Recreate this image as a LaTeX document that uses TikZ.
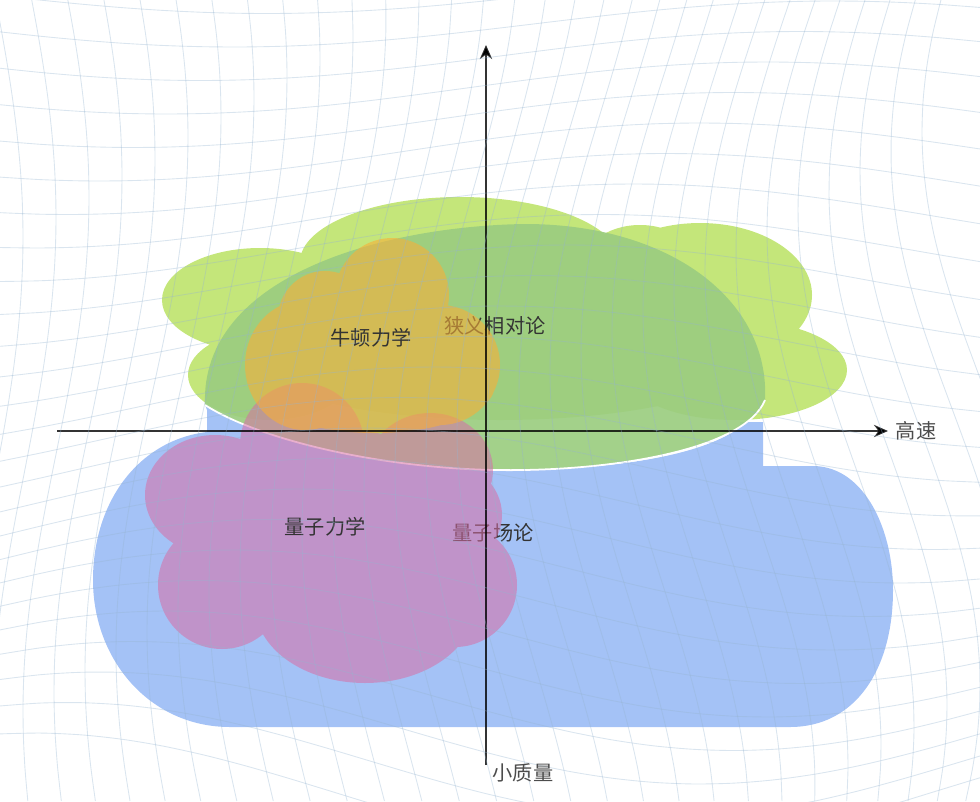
\documentclass[tikz,border=0pt]{standalone}
\usepackage{fontspec}
\newfontfamily\cjk{Noto Sans CJK SC}
\usetikzlibrary{arrows.meta,positioning}

\definecolor{cloudblue}{RGB}{164,194,246}
\definecolor{lightgreen}{RGB}{190,227,108}
\definecolor{deepgreen}{RGB}{155,205,128}
\definecolor{newtonorange}{RGB}{250,175,55}
\definecolor{quantumred}{RGB}{215,110,165}
\definecolor{netline}{RGB}{150,180,208}

\tikzset{
  lbl/.style={font=\cjk\fontsize{11.5}{14}\selectfont, text=black!80},
  axis/.style={line width=1.1pt, draw=black, draw opacity=0.8, -{Stealth[length=8pt,width=7pt]}},
  net/.style={draw=netline, line width=0.5pt, draw opacity=0.35},
}

\begin{document}
\begin{tikzpicture}[x=0.02cm, y=-0.02cm]
\useasboundingbox (0,0) rectangle (980,801);

% blue region
\fill[cloudblue] (207,410) -- (205,405) .. controls (260,440) and (380,468) .. (495,470)
  .. controls (600,471) and (700,458) .. (740,427) -- (740,422) -- (763,422) -- (763,466)
  -- (815,466) .. controls (865,468) and (893,530) .. (893,590)
  .. controls (893,670) and (855,727) .. (790,727) -- (230,727)
  .. controls (150,727) and (93,660) .. (93,580)
  .. controls (93,500) and (140,440) .. (207,432) -- cycle;

% light green cloud
\fill[lightgreen, fill opacity=0.9]
  (260,300) ellipse [x radius=98, y radius=52]
  (270,375) ellipse [x radius=82, y radius=45]
  (460,262) ellipse [x radius=160, y radius=65]
  (640,270) ellipse [x radius=60, y radius=45]
  (700,295) ellipse [x radius=112, y radius=72]
  (735,370) ellipse [x radius=112, y radius=50]
  (500,340) ellipse [x radius=280, y radius=80];

% special relativity dome
\fill[deepgreen, fill opacity=0.92] (205,405) .. controls (200,275) and (385,226) .. (525,224)
  .. controls (670,224) and (770,300) .. (765,400)
  .. controls (745,450) and (610,472) .. (495,470)
  .. controls (380,468) and (260,440) .. (205,405) -- cycle;
\draw[white, line width=1pt] (765,400) .. controls (745,450) and (610,472) .. (495,470)
  .. controls (380,468) and (260,440) .. (205,405);

\node[lbl] (sr) at (495,326) {狭义相对论};
\node[lbl] (qft) at (493,533) {量子场论};

% quantum mechanics cloud
\fill[quantumred, fill opacity=0.55]
  (302,445) circle [radius=62]
  (430,470) ellipse [x radius=63, y radius=57]
  (215,495) ellipse [x radius=70, y radius=60]
  (222,585) circle [radius=64]
  (365,605) ellipse [x radius=110, y radius=78]
  (455,585) circle [radius=62]
  (440,515) ellipse [x radius=62, y radius=55]
  (340,530) ellipse [x radius=150, y radius=100];

% newton cloud
\fill[newtonorange, fill opacity=0.58]
  (392,295) circle [radius=57]
  (325,318) circle [radius=47]
  (305,365) ellipse [x radius=60, y radius=65]
  (440,365) circle [radius=60]
  (375,385) ellipse [x radius=120, y radius=48];

\node[lbl] (newton) at (371,338) {牛顿力学};
\node[lbl] (qm) at (325,527) {量子力学};

% axes
\coordinate (xstart) at (57,431);
\coordinate (xend) at (888,431);
\coordinate (ystart) at (486,765);
\coordinate (yend) at (486,45);
\draw[axis] (xstart) -- (xend);
\draw[axis] (ystart) -- (yend);

% background mesh
\begin{scope}
\clip (0,0) rectangle (980,801);
\foreach \k in {0,...,26}
  \draw[net] plot[smooth, domain=0:980, samples=25] (\x, {\k*32 - 40 + (20+\k*1.5)*sin(\x*0.3 + \k*10)});
\foreach \k in {0,...,32}
  \draw[net] plot[smooth, variable=\t, domain=0:801, samples=25] ({\k*32 - 40 + (30+\k)*sin(\t*0.35 + \k*7)}, \t);
\end{scope}

\node[lbl, text=black!70, right=1pt of xend] (xlab) {高速};
\node[lbl, text=black!70] (ylab) at (523,773) {小质量};

\end{tikzpicture}
\end{document}
